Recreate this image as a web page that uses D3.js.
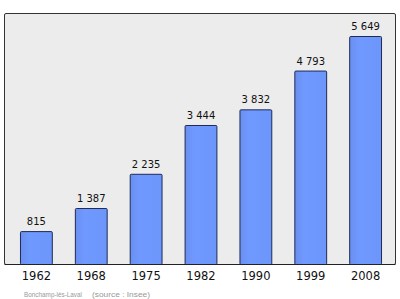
<!DOCTYPE html>
<html>
<head>
<meta charset="utf-8">
<script src="https://cdn.jsdelivr.net/npm/d3@7"></script>
<style>
  body { margin: 0; background: #fff; }
  svg { display: block; font-family: "DejaVu Sans", sans-serif; }
</style>
</head>
<body>
<div id="chart"></div>
<script>
const years = ["1962", "1968", "1975", "1982", "1990", "1999", "2008"];
const population = [815, 1387, 2235, 3444, 3832, 4793, 5649];
const valueLabels = ["815", "1 387", "2 235", "3 444", "3 832", "4 793", "5 649"];

const width = 400, height = 299;
const frame = { left: 4.5, top: 13.5, right: 395.5, bottom: 264.5 };

const svg = d3.select("#chart")
    .append("svg")
    .attr("width", width)
    .attr("height", height);

// gradient for bars
const defs = svg.append("defs");
const grad = defs.append("linearGradient")
    .attr("id", "barFill")
    .attr("x1", "0%").attr("x2", "100%");
grad.append("stop").attr("offset", "0%").attr("stop-color", "#6a8ff0");
grad.append("stop").attr("offset", "30%").attr("stop-color", "#7099ff");
grad.append("stop").attr("offset", "100%").attr("stop-color", "#6d96fb");

// plot frame
svg.append("rect")
    .attr("x", frame.left)
    .attr("y", frame.top)
    .attr("width", frame.right - frame.left)
    .attr("height", frame.bottom - frame.top)
    .attr("rx", 1.5)
    .attr("fill", "#ececec")
    .attr("stroke", "#333")
    .attr("stroke-width", 1);

const x = d3.scaleBand()
    .domain(years)
    .range([9, 392])
    .paddingInner(0.42)
    .paddingOuter(0.2);

const y = d3.scaleLinear()
    .domain([0, 5649])
    .range([264, 36]);

svg.selectAll("rect.bar")
    .data(population)
    .enter()
    .append("rect")
    .attr("class", "bar")
    .attr("x", (d, i) => x(years[i]) + 0.5)
    .attr("y", d => y(d) + 0.5)
    .attr("width", x.bandwidth())
    .attr("height", d => y(0) - y(d))
    .attr("rx", 1)
    .attr("fill", "url(#barFill)")
    .attr("stroke", "#1f2a55")
    .attr("stroke-width", 1);

svg.selectAll("text.val")
    .data(population)
    .enter()
    .append("text")
    .attr("class", "val")
    .attr("x", (d, i) => x(years[i]) + x.bandwidth() / 2 + 0.5)
    .attr("y", d => y(d) - 6)
    .attr("text-anchor", "middle")
    .attr("font-size", 10)
    .attr("fill", "#111")
    .text((d, i) => valueLabels[i]);

// baseline
svg.append("line")
    .attr("x1", frame.left).attr("x2", frame.right)
    .attr("y1", frame.bottom).attr("y2", frame.bottom)
    .attr("stroke", "#222");

const xAxis = svg.append("g")
    .attr("transform", `translate(0.5,${frame.bottom})`)
    .call(d3.axisBottom(x).tickSize(0).tickPadding(7.5));
xAxis.select(".domain").remove();
xAxis.selectAll("text")
    .attr("font-size", 11.5)
    .attr("font-family", "DejaVu Sans, sans-serif")
    .attr("fill", "#111");

const foot = svg.append("g")
    .attr("font-size", 8)
    .attr("font-family", "'Liberation Sans Narrow', 'Liberation Sans', sans-serif")
    .attr("fill", "#999");
foot.append("text").attr("x", 24).attr("y", 296.5)
    .attr("textLength", 58).attr("lengthAdjust", "spacingAndGlyphs")
    .text("Bonchamp-lès-Laval");
foot.append("text").attr("x", 92).attr("y", 296.5)
    .attr("textLength", 58).attr("lengthAdjust", "spacingAndGlyphs")
    .text("(source : Insee)");
</script>
</body>
</html>
